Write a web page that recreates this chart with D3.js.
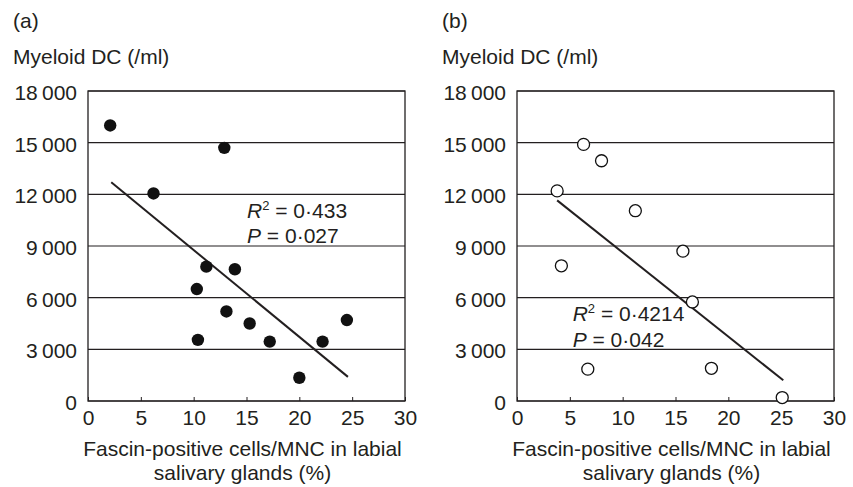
<!DOCTYPE html>
<html>
<head>
<meta charset="utf-8">
<style>
  body { margin: 0; background: #fff; }
  text { font-family: "Liberation Sans", Arial, sans-serif; fill: #231f20; }
</style>
</head>
<body>

<script src="https://d3js.org/d3.v7.min.js"></script>

<script>

const width = 853;
const height = 487;

// panel (a): filled dots
const xA = [2.1, 12.9, 6.2, 11.2, 13.9, 10.3, 13.1, 15.3, 10.4, 17.2, 22.2, 24.5, 20.0];
const yA = [16000, 14700, 12050, 7800, 7650, 6500, 5200, 4500, 3550, 3450, 3450, 4700, 1350];
const lineA = [[2.2, 12700], [24.6, 1400]];

// panel (b): open circles
const xB = [6.3, 8.0, 3.8, 11.2, 15.7, 4.2, 16.6, 6.7, 18.4, 25.1];
const yB = [14900, 13950, 12200, 11050, 8700, 7850, 5750, 1850, 1900, 200];
const lineB = [[3.8, 11650], [25.2, 1200]];

const xTicks = [0, 5, 10, 15, 20, 25, 30];
const yTicks = [0, 3000, 6000, 9000, 12000, 15000, 18000];

const panels = [
  { tag: '(a)', left: 88,  xs: xA, ys: yA, fit: lineA, filled: true,
    stats: ['0·433', '0·027'], statX: 15.05, statY: [10650, 9200] },
  { tag: '(b)', left: 517, xs: xB, ys: yB, fit: lineB, filled: false,
    stats: ['0·4214', '0·042'], statX: 5.27, statY: [4660, 3150] }
];

const plotW = 317;
const plotTop = 91;
const plotBottom = 401;
const fs = 21;

const svg = d3.select('body')
              .append('svg')
              .attr('width', width)
              .attr('height', height);

const fmt = v => v >= 1000 ? d3.format('d')(v / 1000) + '\u2009000' : '0';

panels.forEach(p => {
  const x = d3.scaleLinear().domain([0, 30]).range([p.left, p.left + plotW]);
  const y = d3.scaleLinear().domain([0, 18000]).range([plotBottom, plotTop]);
  const g = svg.append('g');

  g.append('text')
    .attr('x', p.left - 75)
    .attr('y', 28)
    .attr('font-size', fs)
    .text(p.tag);

  g.append('text')
    .attr('x', p.left - 75)
    .attr('y', 64)
    .attr('font-size', fs)
    .text('Myeloid DC (/ml)');

  // horizontal grid lines
  g.selectAll('line.grid')
    .data(yTicks)
    .enter()
    .append('line')
      .attr('x1', x(0))
      .attr('x2', x(30))
      .attr('y1', d => y(d))
      .attr('y2', d => y(d))
      .attr('stroke', '#231f20')
      .attr('stroke-width', 1.1);

  g.selectAll('text.ylab')
    .data(yTicks)
    .enter()
    .append('text')
      .attr('x', p.left - 11)
      .attr('y', d => y(d) + 9)
      .attr('text-anchor', 'end')
      .attr('font-size', fs)
      .text(fmt);

  // frame
  g.append('rect')
    .attr('x', x(0))
    .attr('y', y(18000))
    .attr('width', x(30) - x(0))
    .attr('height', y(0) - y(18000))
    .attr('fill', 'none')
    .attr('stroke', '#231f20')
    .attr('stroke-width', 1.3);

  // x axis, ticks inward
  const xAxis = d3.axisBottom(x).tickValues(xTicks).tickSizeInner(-4).tickSizeOuter(0).tickPadding(9);
  const ax = g.append('g').attr('transform', `translate(0,${plotBottom})`).call(xAxis);
  ax.select('.domain').remove();
  ax.selectAll('line').attr('stroke', '#231f20');
  ax.selectAll('text')
    .attr('font-size', fs)
    .attr('font-family', '"Liberation Sans", Arial, sans-serif')
    .attr('fill', '#231f20')
    .attr('dy', '0.71em');

  const cx = p.left + plotW / 2 - 4;
  g.append('text')
    .attr('x', cx).attr('y', 456)
    .attr('text-anchor', 'middle')
    .attr('font-size', fs)
    .text('Fascin-positive cells/MNC in labial');
  g.append('text')
    .attr('x', cx).attr('y', 480)
    .attr('text-anchor', 'middle')
    .attr('font-size', fs)
    .text('salivary glands (%)');

  // regression line
  g.append('line')
    .attr('x1', x(p.fit[0][0])).attr('y1', y(p.fit[0][1]))
    .attr('x2', x(p.fit[1][0])).attr('y2', y(p.fit[1][1]))
    .attr('stroke', '#231f20')
    .attr('stroke-width', 2);

  g.selectAll('circle')
    .data(p.xs.map((v, i) => [v, p.ys[i]]))
    .enter()
    .append('circle')
      .attr('cx', d => x(d[0]))
      .attr('cy', d => y(d[1]))
      .attr('r', p.filled ? 6.2 : 6)
      .attr('fill', p.filled ? '#111' : '#fff')
      .attr('stroke', '#111')
      .attr('stroke-width', p.filled ? 0 : 1.3);

  const r2 = g.append('text')
    .attr('x', x(p.statX))
    .attr('y', y(p.statY[0]))
    .attr('font-size', fs);
  r2.append('tspan').attr('font-style', 'italic').text('R');
  r2.append('tspan').attr('font-size', 13).attr('dy', -8).text('2');
  r2.append('tspan').attr('dy', 8).text(' = ' + p.stats[0]);

  const pv = g.append('text')
    .attr('x', x(p.statX))
    .attr('y', y(p.statY[1]))
    .attr('font-size', fs);
  pv.append('tspan').attr('font-style', 'italic').text('P');
  pv.append('tspan').text(' = ' + p.stats[1]);
});

</script>
</body>
</html>
